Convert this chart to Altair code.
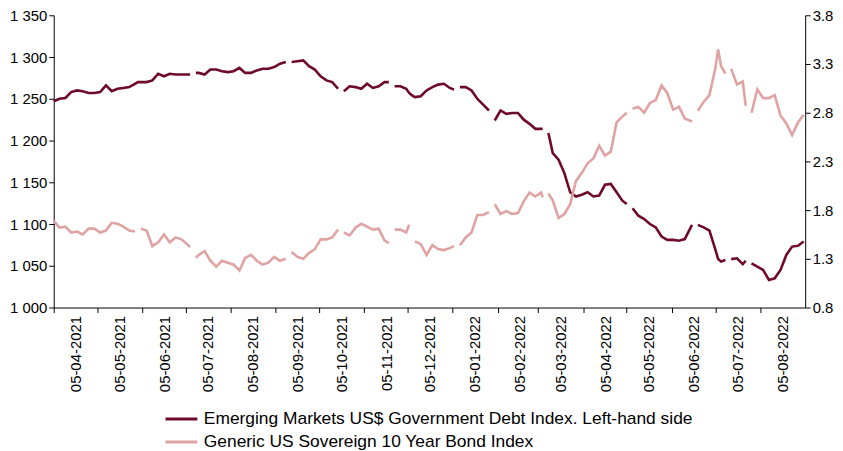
import altair as alt
import pandas as pd

# time axis: days since 05-04-2021 (null values are gaps in the series)
days = [0, 4, 8, 12, 16, 20, 24, 28, 32, 36, 40, 44, 48, 52, 56, 58, 60, 64, 68, 72, 76, 80, 84, 88, 92, 94, 96, 98,
        100, 104, 108, 112, 116, 120, 124, 128, 132, 136, 140, 144, 148, 152, 156, 160, 162, 164, 168, 172, 176, 180,
        184, 188, 192, 196, 198, 200, 204, 208, 212, 216, 220, 224, 228, 231, 233, 235, 239, 243, 245, 247, 249, 253,
        257, 261, 265, 269, 273, 276, 278, 280, 284, 288, 292, 296, 300, 302, 304, 308, 312, 316, 320, 324, 328, 332,
        336, 337, 339, 341, 344, 348, 352, 356, 360, 364, 368, 372, 376, 380, 384, 388, 392, 395, 397, 399, 403, 407,
        411, 415, 419, 423, 427, 431, 435, 440, 442, 444, 448, 452, 456, 458, 460, 463, 465, 467, 471, 475, 477, 479,
        481, 485, 489, 493, 497, 501, 505, 509, 513, 517]

em = [1247, 1250, 1251, 1258, 1260, 1259, 1257, 1257, 1258, 1266, 1259, 1262, 1263, 1264, 1268, 1270, 1270, 1270,
      1272, 1280, 1277, 1280, 1279, 1279, 1279, 1279, None, 1281,
      1281, 1279, 1285, 1285, 1283, 1282, 1283, 1287, 1281, 1281, 1284, 1286, 1286, 1288, 1292, 1294, None, 1294,
      1295, 1296, 1289, 1285,
      1277, 1272, 1270, 1262, None, 1259, 1265, 1264, 1262, 1268, 1263, 1265, 1270, 1270, None, 1265, 1265, 1262,
      1257, 1254, 1252, 1253,
      1260, 1264, 1267, 1268, 1263, 1261, None, 1264, 1264, 1260, 1250, 1243, 1236, None, 1224, 1236, 1232, 1233,
      1233, 1225, 1220, 1214,
      1214, 1214, None, 1209, 1185, 1177, 1161, 1138, 1133, 1135, 1138, 1133, 1134, 1147, 1148, 1138, 1128, 1124,
      None, 1119, 1110, 1106,
      1100, 1096, 1085, 1081, 1081, 1080, 1082, 1099, None, 1099, 1096, 1092, 1070, 1058, 1055, 1057, None, 1058,
      1059, 1052, 1056, None,
      1053, 1049, 1045, 1033, 1035, 1045, 1063, 1073, 1074, 1079]

ust = [1.69, 1.62, 1.63, 1.57, 1.58, 1.55, 1.61, 1.61, 1.57, 1.59, 1.67, 1.66, 1.63, 1.59, 1.58, None, 1.61, 1.59,
       1.43, 1.47, 1.55, 1.47, 1.52, 1.50, 1.45, 1.42, None, 1.31,
       1.34, 1.38, 1.28, 1.22, 1.28, 1.26, 1.24, 1.18, 1.31, 1.34, 1.28, 1.24, 1.26, 1.32, 1.28, 1.30, None, 1.37,
       1.32, 1.30, 1.36, 1.40,
       1.50, 1.50, 1.52, 1.60, None, 1.57, 1.54, 1.62, 1.66, 1.63, 1.60, 1.61, 1.49, 1.46, None, 1.60, 1.60, 1.57,
       1.65, None, 1.48, 1.45,
       1.34, 1.44, 1.40, 1.39, 1.41, 1.43, None, 1.44, 1.52, 1.57, 1.75, 1.75, 1.78, None, 1.86, 1.76, 1.79, 1.76,
       1.77, 1.89, 1.98, 1.94,
       1.98, 1.93, None, 1.97, 1.90, 1.72, 1.76, 1.86, 2.10, 2.18, 2.28, 2.33, 2.46, 2.36, 2.40, 2.70, 2.76, 2.80,
       None, 2.84, 2.86, 2.80,
       2.90, 2.93, 3.08, 3.00, 2.83, 2.86, 2.74, 2.71, None, 2.82, 2.91, 2.98, 3.25, 3.45, 3.28, 3.20, None, 3.25,
       3.09, 3.12, 2.87, None,
       2.80, 3.04, 2.95, 2.95, 2.98, 2.77, 2.69, 2.57, 2.70, 2.78]

series_names = ["Emerging Markets US$ Government Debt Index. Left-hand side",
                "Generic US Sovereign 10 Year Bond Index"]
series_colors = ["#6E0A28", "#DFA3A3"]

left_ticks = [1000, 1050, 1100, 1150, 1200, 1250, 1300, 1350]
right_ticks = [0.8, 1.3, 1.8, 2.3, 2.8, 3.3, 3.8]
tick_months = [(2021, m) for m in range(4, 13)] + [(2022, m) for m in range(1, 9)]

start = pd.Timestamp("2021-04-05")
df = pd.DataFrame({
    "date": [(start + pd.Timedelta(days=d)).strftime("%Y-%m-%dT00:00:00") for d in days],
    "em": em,
    "ust": ust,
})

FONT = "Liberation Sans"

x_enc = alt.X(
    "date:T",
    scale=alt.Scale(domain=[alt.DateTime(year=2021, month=4, date=5), alt.DateTime(year=2022, month=9, date=5)]),
    axis=alt.Axis(
        title=None,
        values=[alt.DateTime(year=y, month=m, date=5) for y, m in tick_months],
        format="%d-%m-%Y",
        labelAngle=270,
        labelOffset=22,
        labelPadding=3,
        tickSize=5,
        grid=False,
    ),
)

color_scale = alt.Scale(domain=series_names, range=series_colors)
legend = alt.Legend(title=None, orient="none", legendX=111, legendY=395, direction="vertical",
                    symbolType="stroke", symbolSize=1024, symbolStrokeWidth=3,
                    labelFontSize=17.5, labelFont=FONT, labelColor="black", labelLimit=1000,
                    clipHeight=22.4, rowPadding=0, padding=0, labelOffset=5)

line_em = alt.Chart(df).transform_calculate(series=f"'{series_names[0]}'").mark_line(strokeWidth=2.6).encode(
    x=x_enc,
    y=alt.Y("em:Q", scale=alt.Scale(domain=[1000, 1350], nice=False, zero=False),
            axis=alt.Axis(title=None, values=left_ticks, orient="left", grid=False, tickSize=5,
                          labelExpr="replace(format(datum.value, ','), ',', ' ')")),
    color=alt.Color("series:N", scale=color_scale, legend=legend),
)

line_ust = alt.Chart(df).transform_calculate(series=f"'{series_names[1]}'").mark_line(strokeWidth=2.6).encode(
    x=x_enc,
    y=alt.Y("ust:Q", scale=alt.Scale(domain=[0.8, 3.8], nice=False, zero=False),
            axis=alt.Axis(title=None, values=right_ticks, orient="right", grid=False, tickSize=5, format=".1f")),
    color=alt.Color("series:N", scale=color_scale, legend=legend),
)

chart = alt.layer(line_em, line_ust).resolve_scale(y="independent").properties(
    width=756, height=294,
    autosize=alt.AutoSizeParams(type="none"),
    padding={"left": 46, "top": 6, "right": 30, "bottom": 143},
).configure_view(stroke=None).configure_axis(
    labelFont=FONT, labelFontSize=15, labelColor="black",
    domainColor="black", tickColor="black", domainWidth=1, tickWidth=1,
)

chart.save("out.html", embed_options={"renderer": "svg", "actions": False})
